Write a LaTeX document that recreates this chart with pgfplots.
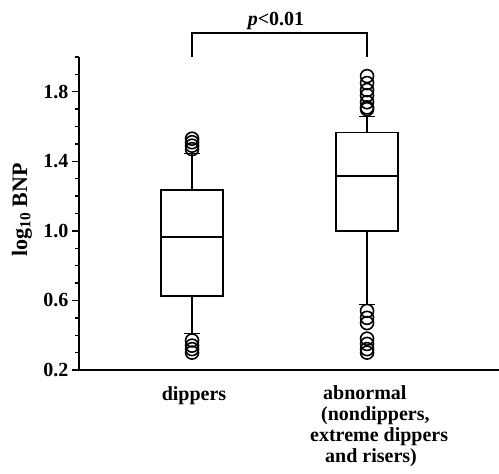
\documentclass[border=0pt]{standalone}
\usepackage{pgfplots}
\pgfplotsset{compat=1.18}
\usepgfplotslibrary{statistics}
\usepackage{fontspec}
\setmainfont{Liberation Serif}
\begin{document}
\begin{tikzpicture}
\useasboundingbox (-79bp,-104bp) rectangle (420bp,370bp);
\begin{axis}[
  scale only axis,
  width=420bp, height=313bp,
  xmin=0.354, xmax=2.754,
  ymin=0.2, ymax=2.0,
  axis x line=bottom, axis y line=left,
  axis line style={-, line width=1.5bp},
  xtick=\empty,
  ytick={0.2,0.6,1.0,1.4,1.8},
  minor ytick={0.3,0.4,0.5,0.7,0.8,0.9,1.1,1.2,1.3,1.5,1.6,1.7,1.9,2.0},
  tick align=outside,
  major tick length=7bp, minor tick length=4bp,
  every tick/.style={black, line width=1.4bp},
  yticklabel style={font=\fontsize{20bp}{24bp}\selectfont\bfseries, /pgf/number format/fixed, /pgf/number format/fixed zerofill, /pgf/number format/precision=1, /pgf/number format/assume math mode=true},
  clip=false,
  boxplot/draw direction=y,
  boxplot/box extend=0.354,
  boxplot/whisker extend=0.09,
]
\addplot[black, line width=1.6bp, fill=white, boxplot prepared={draw position=1, lower whisker=0.41, lower quartile=0.625, median=0.966, upper quartile=1.234, upper whisker=1.446}, boxplot/every median/.style={line width=2.1bp}] coordinates {};
\addplot[black, line width=1.6bp, fill=white, boxplot prepared={draw position=2, lower whisker=0.577, lower quartile=1.0, median=1.318, upper quartile=1.566, upper whisker=1.657}, boxplot/every median/.style={line width=2.1bp}] coordinates {};
\addplot[only marks, mark=o, mark size=6.5bp, black, line width=1.6bp] coordinates {
(1,1.53) (1,1.51) (1,1.49) (1,1.47)
(1,0.37) (1,0.34) (1,0.32) (1,0.30)
(2,1.89) (2,1.85) (2,1.81) (2,1.78) (2,1.74) (2,1.71) (2,1.70)
(2,0.54) (2,0.50) (2,0.47) (2,0.38) (2,0.35) (2,0.32) (2,0.30)
};
\draw[line width=1.5bp] (axis cs:1,2.0) -- (axis cs:1,2.137) -- (axis cs:2,2.137) -- (axis cs:2,2.0);
\end{axis}
\node[anchor=base, font=\fontsize{20bp}{24bp}\selectfont\bfseries] at (197bp,344bp) {\textit{p}<0.01};
\node[rotate=90, anchor=center, font=\fontsize{22bp}{26bp}\selectfont\bfseries] at (-57bp,160bp) {log\textsubscript{10} BNP};
\node[anchor=base, font=\fontsize{20bp}{24bp}\selectfont\bfseries, inner sep=0pt] at (115bp,-30bp) {dippers};
\node[anchor=north west, align=left, inner sep=0pt, font=\fontsize{20bp}{21.3bp}\selectfont\bfseries] at (231bp,-15bp) {\hspace*{13bp}abnormal\\\hspace*{11bp}(nondippers,\\extreme dippers\\\hspace*{15bp}and risers)};
\end{tikzpicture}
\end{document}
